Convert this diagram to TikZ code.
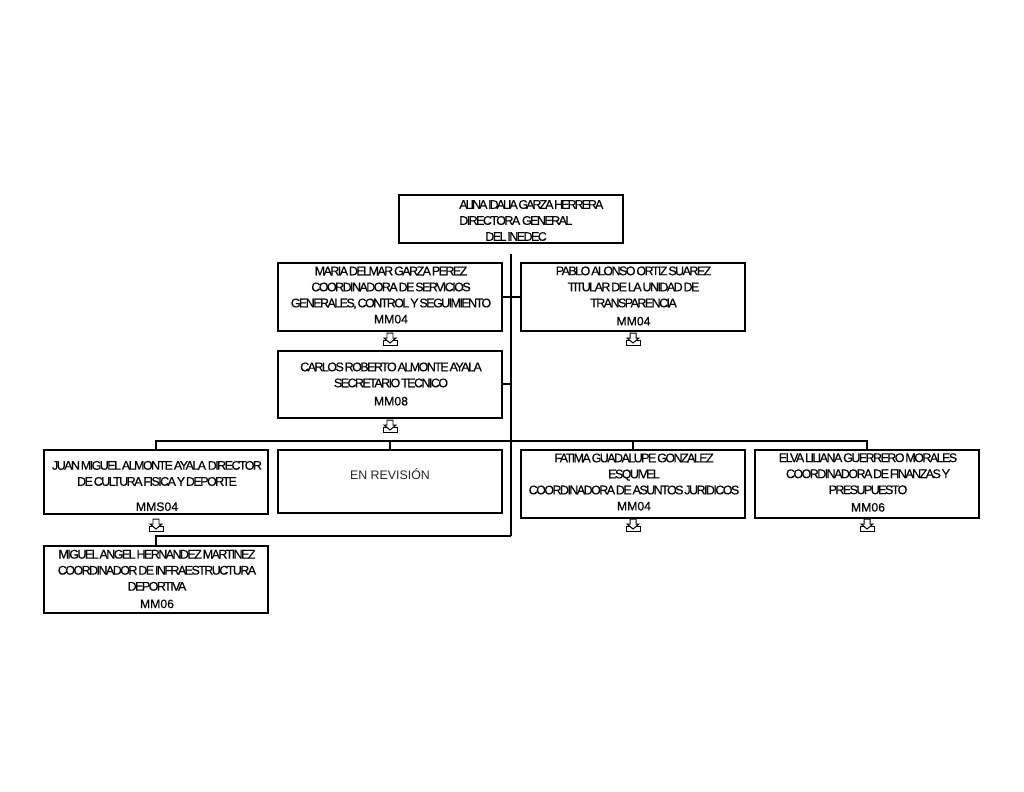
\documentclass[tikz,border=0pt]{standalone}
\usepackage{fontspec}
\setmainfont{Liberation Sans}
\newfontfamily\apretada[LetterSpace=-12.5,WordSpace=0.45,FakeBold=0.4]{Liberation Sans}
\newfontfamily\muyapretada[LetterSpace=-16,WordSpace=0.45,FakeBold=0.4]{Liberation Sans}
\newfontfamily\codigofont[FakeBold=0.4]{Liberation Sans}
\usetikzlibrary{positioning,calc}
\newcommand{\codigo}[1]{{\codigofont\fontsize{8.7}{11.4}\selectfont #1}}
\tikzset{
  puesto/.style={draw=black,line width=1.1pt,minimum width=5.6cm,inner sep=0pt,outer sep=0pt},
  cargo/.style={font=\apretada\fontsize{8.9}{11.4}\selectfont,align=center,inner sep=0pt},
  linea/.style={draw=black,line width=1.1pt},
  bajada/.pic={
    \draw[line width=0.7pt,line join=miter]
      (-3,-6)--(3,-6)--(3,-1)--(6,-1)--(0,4)--(-6,-1)--(-3,-1)--cycle;
    \draw[line width=0.7pt] (-3,1)--(-7,1)--(-7,6)--(7,6)--(7,1)--(3,1);
  }
}
\begin{document}
\begin{tikzpicture}[x=0.025cm,y=-0.025cm]
  \useasboundingbox (0,0) rectangle (1024,791);
  % direccion
  \node[puesto,minimum height=1.2cm] (direccion) at (511,219) {};
  \node[cargo,align=left,anchor=west] (direccion text) at (459,220.5) {{\muyapretada\fontsize{8.9}{11.4}\selectfont ALINA IDALIA GARZA HERRERA}\\DIRECTORA\ \ GENERAL\\\hspace*{0.65cm}DEL INEDEC};
  % first rows
  \node[puesto,minimum height=1.7cm] (maria) at (390,297) {};
  \node[cargo] (maria text) at (391,295) {MARIA DELMAR GARZA PEREZ\\COORDINADORA DE SERVICIOS\\GENERALES, CONTROL Y SEGUIMIENTO\\\codigo{MM04}};
  \node[puesto,minimum height=1.7cm] (pablo) at (633,297) {};
  \node[cargo] (pablo text) at (633.5,296) {PABLO ALONSO ORTIZ SUAREZ\\TITULAR DE LA UNIDAD DE\\TRANSPARENCIA\\[1.5pt]\codigo{MM04}};
  \node[puesto,minimum height=1.675cm] (carlos) at (390,384.5) {};
  \node[cargo] (carlos text) at (391,384) {CARLOS ROBERTO ALMONTE AYALA\\SECRETARIO TECNICO\\[1.5pt]\codigo{MM08}};
  % bus row
  \node[puesto,minimum height=1.6cm] (juan) at (156,482) {};
  \node[cargo] (juan text) at (157,486) {JUAN MIGUEL ALMONTE AYALA\ \ DIRECTOR\\DE CULTURA FISICA Y DEPORTE\\[6.5pt]\codigo{MMS04}};
  \node[puesto,minimum height=1.575cm] (revision) at (390,481.5) {};
  \node[font=\fontsize{8.8}{11}\selectfont,text=black!85,inner sep=0pt] (revision text) at (390,474) {EN REVISIÓN};
  \node[puesto,minimum height=1.7cm] (fatima) at (633,484) {};
  \node[cargo] (fatima text) at (634,482) {FATIMA GUADALUPE GONZALEZ\\ESQUIVEL\\COORDINADORA DE ASUNTOS JURIDICOS\\\codigo{MM04}};
  \node[puesto,minimum height=1.7cm] (elva) at (867,484) {};
  \node[cargo] (elva text) at (868,482.5) {ELVA LILIANA GUERRERO MORALES\\COORDINADORA DE FINANZAS Y\\PRESUPUESTO\\[1pt]\codigo{MM06}};
  \node[puesto,minimum height=1.675cm] (miguel) at (156,579.5) {};
  \node[cargo] (miguel text) at (157,579) {MIGUEL ANGEL HERNANDEZ MARTINEZ\\COORDINADOR DE INFRAESTRUCTURA\\DEPORTIVA\\[1pt]\codigo{MM06}};
  % trunk
  \coordinate (tronco) at (511,254);
  \coordinate (ramal) at (511,384);
  \coordinate (bus) at (511,441);
  \coordinate (codo) at (511,536);
  \draw[linea] (tronco) -- (codo);
  \draw[linea] (maria.east) -- (pablo.west);
  \draw[linea] (ramal -| carlos.east) -- (ramal);
  \draw[linea] (juan.north) |- (bus) -| (elva.north);
  \draw[linea] (revision.north) -- (revision.north |- bus);
  \draw[linea] (fatima.north) -- (fatima.north |- bus);
  \draw[linea] (codo) -| (miguel.north);
  % hanging marks
  \foreach \x/\y in {390/339,633/339,390/426,156/525,633/525,867/525}{\pic at (\x,\y) {bajada};}
\end{tikzpicture}
\end{document}
